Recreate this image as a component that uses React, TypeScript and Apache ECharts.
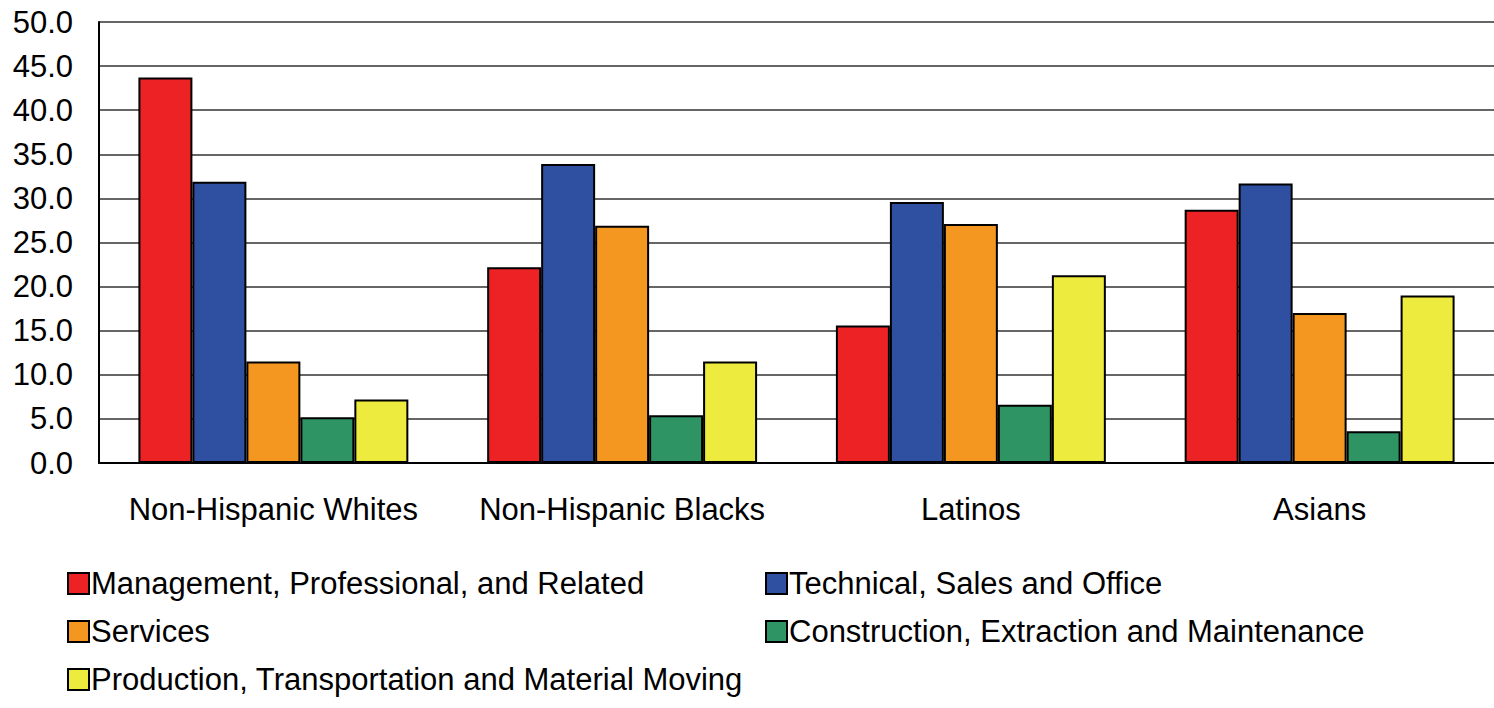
import React, { useEffect, useRef } from "react";
import * as echarts from "echarts";

const categories = ["Non-Hispanic Whites", "Non-Hispanic Blacks", "Latinos", "Asians"];
const seriesNames = [
  "Management, Professional, and Related",
  "Technical, Sales and Office",
  "Services",
  "Construction, Extraction and Maintenance",
  "Production, Transportation and Material Moving",
];
const management = [43.7, 22.2, 15.6, 28.7];
const technical = [31.9, 33.9, 29.6, 31.7];
const services = [11.5, 26.9, 27.1, 17.0];
const construction = [5.2, 5.4, 6.6, 3.6];
const production = [7.2, 11.5, 21.3, 19.0];
const colors = ["#ED2224", "#2F50A1", "#F39720", "#2E9464", "#EDEB3D"];
const yTicks = { min: 0, max: 50, interval: 5 };

export default function App() {
  const ref = useRef<HTMLDivElement>(null);
  useEffect(() => {
    document.body.style.margin = "0";
    const chart = echarts.init(ref.current!, null, { renderer: "svg" });
    const values = [management, technical, services, construction, production];
    const font = "Liberation Sans, Arial, sans-serif";
    const legendCommon = {
      itemWidth: 21,
      itemHeight: 21,
      icon: "rect",
      textStyle: { fontSize: 31, color: "#000", fontFamily: font, padding: [0, 0, 0, -3] },
      selectedMode: false,
    };
    const legendPos = [
      { left: 62, top: 563 },
      { left: 760, top: 563 },
      { left: 62, top: 611 },
      { left: 760, top: 611 },
      { left: 62, top: 659 },
    ];
    chart.setOption({
      animation: false,
      grid: { left: 99, top: 22, right: 0, bottom: 245, containLabel: false },
      legend: seriesNames.map((n, i) => ({ ...legendCommon, ...legendPos[i], data: [n] })),
      xAxis: {
        type: "category",
        data: categories,
        axisLine: { lineStyle: { color: "#000", width: 2 } },
        axisTick: { show: false },
        axisLabel: { interval: 0, fontSize: 31, color: "#000", fontFamily: font, margin: 31 },
      },
      yAxis: {
        type: "value",
        min: yTicks.min,
        max: yTicks.max,
        interval: yTicks.interval,
        axisLine: { show: true, lineStyle: { color: "#000", width: 2 } },
        axisTick: { show: false },
        splitLine: { lineStyle: { color: "#333", width: 1.5 } },
        axisLabel: {
          fontSize: 31,
          color: "#000",
          fontFamily: font,
          margin: 26,
          formatter: (v: number) => v.toFixed(1),
        },
      },
      series: seriesNames.map((name, i) => ({
        name,
        type: "bar",
        data: values[i],
        barGap: "0%",
        barCategoryGap: "22.6%",
        itemStyle: { color: colors[i], borderColor: "#000", borderWidth: 2 },
      })),
    });
    return () => chart.dispose();
  }, []);
  return <div ref={ref} style={{ width: 1494, height: 708 }} />;
}
